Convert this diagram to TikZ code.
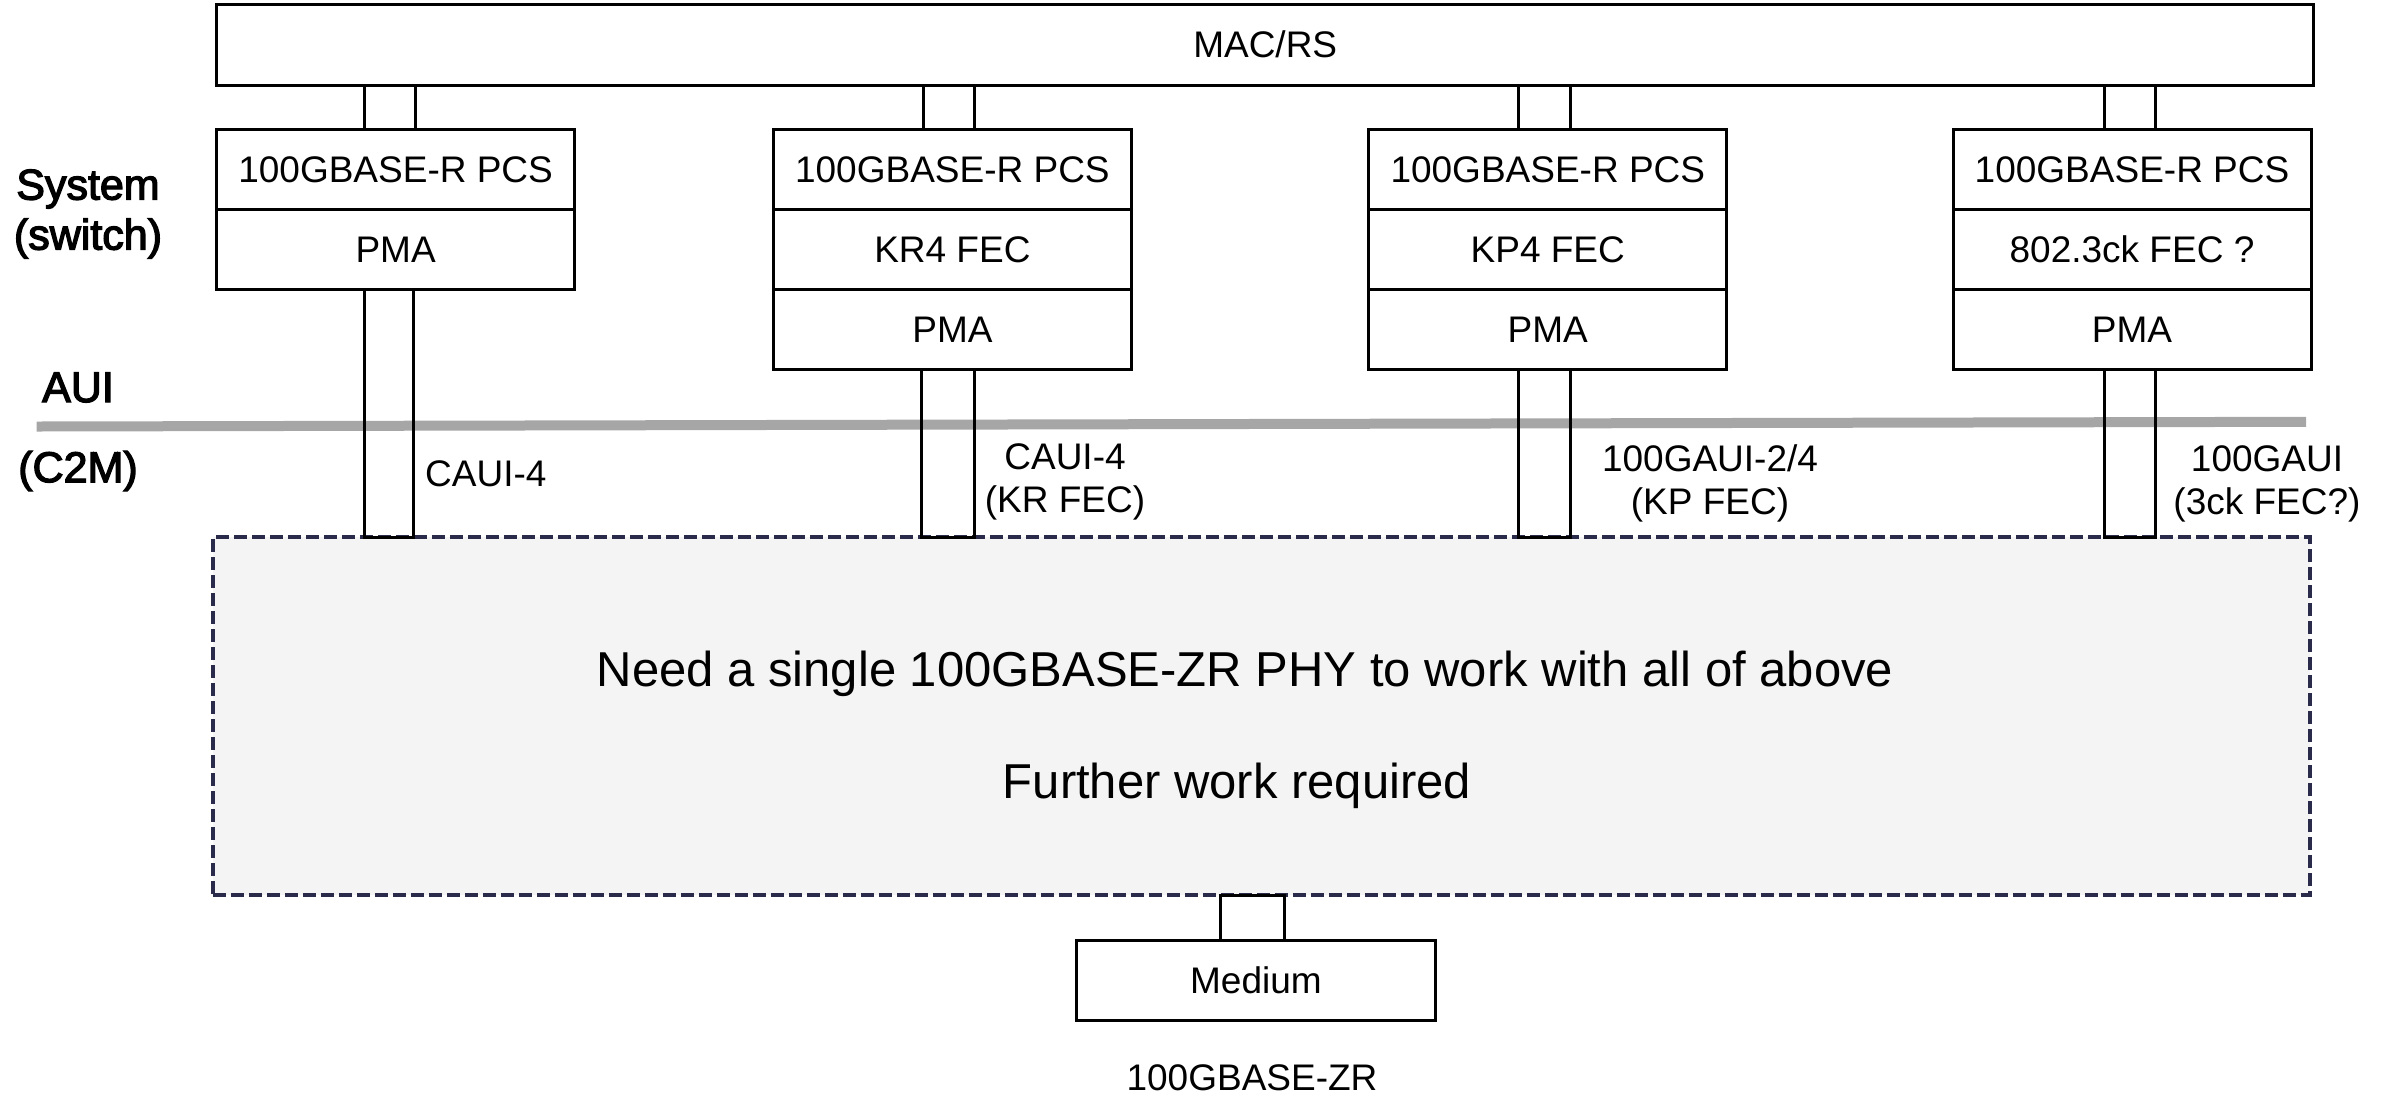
\documentclass[tikz,border=0pt]{standalone}
\usepackage{fontspec}
\setmainfont{Liberation Sans}
\newfontfamily\sidefont[FakeBold=3]{Liberation Sans}
\newcommand\lblfont{\fontsize{37}{43}\selectfont}
\newcommand\bigfont{\fontsize{49}{58}\selectfont}
\newcommand\sidesize{\sidefont\fontsize{43}{50}\selectfont}
\definecolor{navyline}{RGB}{42,42,74}
\definecolor{bggray}{RGB}{244,244,244}
\definecolor{auigray}{RGB}{166,166,166}
\tikzset{
  layer/.style={draw=black, line width=3pt, minimum width=358pt, minimum height=80pt,
                inner sep=0pt, outer sep=0pt, font=\lblfont},
  lk/.style={draw=black, line width=3pt},
  lbl/.style={font=\lblfont, align=center, inner sep=0pt},
  side/.style={font=\sidesize, align=center, inner sep=0pt},
  bigtxt/.style={font=\bigfont, inner sep=0pt},
  region/.style={draw=navyline, fill=bggray, line width=4pt, dash pattern=on 13pt off 5pt,
                 minimum width=2097pt, minimum height=358pt, inner sep=0pt, outer sep=0pt},
}
\begin{document}
\begin{tikzpicture}[x=1pt,y=-1pt]
\useasboundingbox (0,0) rectangle (2392,1096);

% dashed region
\node[region] (zr) at (1261.4,716) {};
\node[bigtxt, anchor=base] (need) at (1245,686) {Need a single 100GBASE-ZR PHY to work with all of above};
\node[bigtxt, anchor=base] (further) at (1237,798) {Further work required};

% AUI line
\coordinate (auiL) at (36.7,426.5);
\coordinate (auiR) at (2306,421.8);
\draw[auigray, line width=10pt] (auiL) -- (auiR);

% MAC
\node[layer, minimum width=2097pt, minimum height=80.7pt] (mac) at (1265.2,44.7) {MAC/RS};

% column 1
\node[layer] (p1) at (395.6,169.5) {100GBASE-R PCS};
\node[layer] (m1) at (395.6,249.5) {PMA};
% column 2
\node[layer] (p2) at (952.4,169.5) {100GBASE-R PCS};
\node[layer] (f2) at (952.4,249.5) {KR4 FEC};
\node[layer] (m2) at (952.4,329.5) {PMA};
% column 3
\node[layer] (p3) at (1547.8,169.5) {100GBASE-R PCS};
\node[layer] (f3) at (1547.8,249.5) {KP4 FEC};
\node[layer] (m3) at (1547.8,329.5) {PMA};
% column 4
\node[layer] (p4) at (2132,169.5) {100GBASE-R PCS};
\node[layer] (f4) at (2132,249.5) {802.3ck FEC ?};
\node[layer] (m4) at (2132,329.5) {PMA};

% connectors up
\draw[lk] ([xshift=-31pt]p1.north) rectangle ([xshift=20pt]p1.north |- mac.south);
\draw[lk] ([xshift=-29pt]p2.north) rectangle ([xshift=22.5pt]p2.north |- mac.south);
\draw[lk] ([xshift=-29pt]p3.north) rectangle ([xshift=23pt]p3.north |- mac.south);
\draw[lk] ([xshift=-27.5pt]p4.north) rectangle ([xshift=23pt]p4.north |- mac.south);
% connectors down
\draw[lk] ([xshift=-31pt]m1.south) rectangle ([xshift=18pt]m1.south |- zr.north);
\draw[lk] ([xshift=-31pt]m2.south) rectangle ([xshift=22.5pt]m2.south |- zr.north);
\draw[lk] ([xshift=-29pt]m3.south) rectangle ([xshift=23pt]m3.south |- zr.north);
\draw[lk] ([xshift=-27.5pt]m4.south) rectangle ([xshift=23pt]m4.south |- zr.north);

% medium
\node[layer, minimum width=359.7pt, minimum height=80.7pt] (med) at (1255.9,980.4) {Medium};
\draw[lk] ([xshift=-35.4pt]med.north) rectangle ([xshift=28.9pt]med.north |- zr.south);
\node[lbl, anchor=base] (zrname) at (1252,1090) {100GBASE-ZR};

% interface labels
\node[lbl, anchor=base west] (l1) at (425,486) {CAUI-4};
\node[lbl] (l2) at (1065,482) {CAUI-4\\(KR FEC)};
\node[lbl] (l3) at (1710,483) {100GAUI-2/4\\(KP FEC)};
\node[lbl] (l4) at (2267,484) {100GAUI\\(3ck FEC?)};

% side labels
\node[side] (sys) at (88,214) {System\\(switch)};
\node[side, anchor=base] (aui) at (78,402) {AUI};
\node[side] (c2m) at (78,471) {(C2M)};
\end{tikzpicture}
\end{document}
